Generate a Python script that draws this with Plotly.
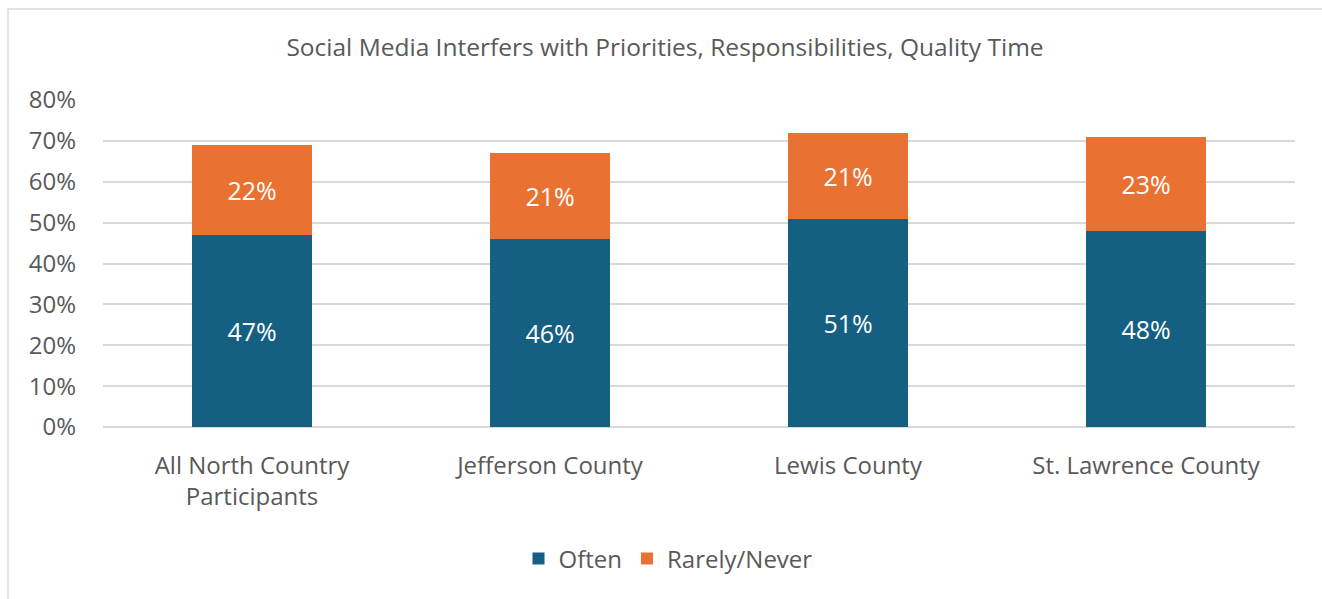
import plotly.graph_objects as go

categories = ["All North Country<br>Participants", "Jefferson County", "Lewis County", "St. Lawrence County"]
often = [47, 46, 51, 48]
rarely_never = [22, 21, 21, 23]
y_ticks = [0, 10, 20, 30, 40, 50, 60, 70, 80]
y_tick_labels = [f"{v}%" for v in y_ticks]

BLUE = "#156082"
ORANGE = "#E97132"
GREY_TEXT = "#595959"
GRID = "#D9D9D9"
FONT = "Open Sans"

fig = go.Figure()
fig.add_trace(go.Bar(
    x=categories, y=often, name="Often",
    marker=dict(color=BLUE, line=dict(width=0)),
    texttemplate="%{y:.0f}%", textposition="inside", insidetextanchor="middle",
    textfont=dict(color="white", size=25, family=FONT),
))
fig.add_trace(go.Bar(
    x=categories, y=rarely_never, name="Rarely/Never",
    marker=dict(color=ORANGE, line=dict(width=0)),
    texttemplate="%{y:.0f}%", textposition="inside", insidetextanchor="middle",
    textfont=dict(color="white", size=25, family=FONT),
))

W, H = 1322, 599
L, R, T, B = 103, 27, 100, 172
pw, ph = W - L - R, H - T - B

def px_x(p):
    return (p - L) / pw

def px_y(p):
    return (H - B - p) / ph

fig.update_layout(
    width=W, height=H,
    margin=dict(l=L, r=R, t=T, b=B, autoexpand=False),
    paper_bgcolor="white", plot_bgcolor="white",
    barmode="stack", bargap=0.6,
    font=dict(family=FONT, color=GREY_TEXT, size=24),
    title=dict(
        text="Social Media Interfers with Priorities, Responsibilities, Quality Time",
        x=665 / W, xref="container", xanchor="center",
        y=1 - 47 / H, yanchor="middle",
        font=dict(size=24.5, color=GREY_TEXT, family=FONT),
    ),
    xaxis=dict(
        showgrid=False, zeroline=False, showline=False,
        ticks="", tickfont=dict(size=24, color=GREY_TEXT),
        ticklabelstandoff=22, tickangle=0,
    ),
    yaxis=dict(
        range=[0, 80], tickmode="array", tickvals=y_ticks, ticktext=y_tick_labels,
        showgrid=True, gridcolor=GRID, gridwidth=1.5,
        zeroline=True, zerolinecolor=GRID, zerolinewidth=1.5,
        showline=False, ticks="",
        tickfont=dict(size=24, color=GREY_TEXT),
        ticklabelstandoff=26,
    ),
    legend=dict(
        orientation="h", x=px_x(668), xanchor="center",
        y=px_y(559), yanchor="middle",
        font=dict(size=24, color=GREY_TEXT),
        traceorder="normal", itemwidth=30,
    ),
    shapes=[dict(
        type="rect", xref="paper", yref="paper",
        x0=px_x(8), x1=px_x(1330), y0=px_y(610), y1=px_y(9),
        line=dict(color=GRID, width=1.5), fillcolor="rgba(0,0,0,0)",
        layer="below",
    )],
)

fig.write_html("out.html")
